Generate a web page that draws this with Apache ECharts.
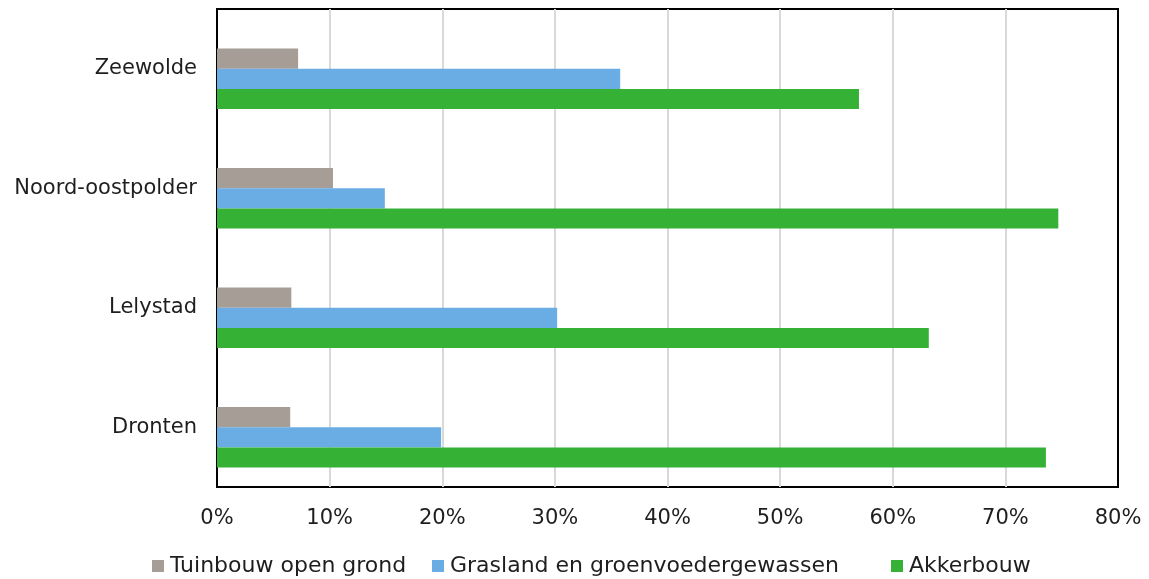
<!DOCTYPE html>
<html>
<head>
<meta charset="utf-8">
<script src="https://cdn.jsdelivr.net/npm/echarts@6/dist/echarts.min.js"></script>
<style>
  html, body { margin: 0; padding: 0; background: #fff; }
  #chart { width: 1149px; height: 579px; }
</style>
</head>
<body>
<div id="chart"></div>
<script>
  // categories, bottom to top
  var gemeenten = ['Dronten', 'Lelystad', 'Noord-oostpolder', 'Zeewolde'];
  var leeg = [0, 0, 0, 0]; // empty slot above the grey bar, as in the original
  var tuinbouw = [6.5, 6.6, 10.3, 7.2];
  var grasland = [19.9, 30.2, 14.9, 35.8];
  var akkerbouw = [73.6, 63.2, 74.7, 57.0];
  var seriesNames = ['Tuinbouw open grond', 'Grasland en groenvoedergewassen', 'Akkerbouw'];

  var chart = echarts.init(document.getElementById('chart'));

  var legendStyle = function(name, left) {
    return {
      left: left, bottom: -3,
      itemWidth: 12, itemHeight: 12, itemGap: 0,
      icon: 'rect',
      textStyle: { fontSize: 22, color: '#1e1e1e', padding: [0, 0, 0, 1] },
      data: [name]
    };
  };

  chart.setOption({
    animation: false,
    textStyle: { fontFamily: 'DejaVu Sans, Verdana, sans-serif' },
    grid: {
      left: 217, right: 31, top: 9, bottom: 92,
      show: true, borderColor: '#000', borderWidth: 2, backgroundColor: '#fff'
    },
    legend: [
      legendStyle(seriesNames[0], 147),
      legendStyle(seriesNames[1], 427),
      legendStyle(seriesNames[2], 886)
    ],
    xAxis: {
      type: 'value',
      min: 0, max: 80, interval: 10,
      axisLine: { show: false },
      axisTick: { show: false },
      splitLine: { showMinLine: false, showMaxLine: false, lineStyle: { color: '#d9d9d9', width: 2 } },
      axisLabel: { formatter: '{value}%', fontSize: 21, color: '#1e1e1e', margin: 21 }
    },
    yAxis: {
      type: 'category',
      data: gemeenten,
      axisLine: { show: false },
      axisTick: { show: false },
      axisLabel: { fontSize: 21, color: '#1e1e1e', margin: 20, padding: [4, 0, 0, 0] }
    },
    series: [
      { name: 'leeg', type: 'bar', data: leeg, barGap: '0%', barCategoryGap: '32.5%', itemStyle: { color: 'rgba(0,0,0,0)' } },
      { name: seriesNames[0], type: 'bar', data: tuinbouw, itemStyle: { color: '#A69D96' } },
      { name: seriesNames[1], type: 'bar', data: grasland, itemStyle: { color: '#6AACE4' } },
      { name: seriesNames[2], type: 'bar', data: akkerbouw, itemStyle: { color: '#35B236' } }
    ]
  });
</script>
</body>
</html>
